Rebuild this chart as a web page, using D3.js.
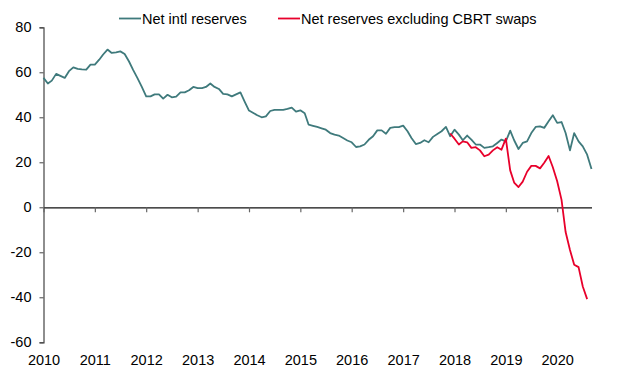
<!DOCTYPE html>
<html lang="en">
<head>
    <meta charset="UTF-8">
    <title>Net reserves</title>
    <script src="https://d3js.org/d3.v7.min.js"></script>
    <style>
        body { margin: 0; background: #fff; }
        svg text { font-family: "Liberation Sans", Arial, sans-serif; font-size: 14.5px; fill: #000; }
    </style>
</head>
<body>
    <div id="chart"></div>

    <script>
    // Monthly series, starting Jan 2010
    const startYear = 2010;
    const netIntlReserves = [
        57.5, 55, 56.3, 59.3, 58.4, 57.5, 60.5, 62.2, 61.5, 61.3, 61.2, 63.4,
        63.4, 65.6, 67.9, 70.1, 68.6, 68.9, 69.3, 68.1, 64.8, 61, 57.3, 53.5,
        49.3, 49.3, 50.2, 50.2, 48.3, 50, 48.9, 49.2, 51.1, 51.1, 52, 53.5,
        53, 53, 53.5, 55, 53.5, 52.6, 50.4, 50.2, 49.3, 50.2, 51.1, 47,
        43, 41.9, 40.9, 40, 40.4, 42.8, 43.3, 43.3, 43.3, 43.7, 44.3, 42.5,
        43.1, 41.8, 36.7, 36.2, 35.7, 35.1, 34.5, 33, 32.3, 31.9, 30.8, 29.7,
        28.9, 26.8, 27.1, 27.9, 30, 31.6, 34.2, 34.2, 32.7, 35.3, 35.6, 35.6,
        36.3, 33.8, 30.8, 28.1, 28.6, 29.8, 28.9, 31.3, 32.6, 33.8, 35.7, 31.6,
        34.5, 32.3, 29.8, 31.9, 30.1, 27.9, 27.9, 26.4, 26.7, 27.1, 28.6, 30.1,
        29.3, 34.1, 29.8, 25.9, 28.6, 29.3, 33, 35.7, 36, 35.3, 38.2, 40.9,
        37.5, 37.9, 33, 25.3, 33, 29.3, 27.1, 23.4, 17
    ];
    // Starts Dec 2017 (month index 95)
    const exSwapsStart = 95;
    const netExSwaps = [
        32.8, 30.5, 27.9, 29.3, 28.9, 26.4, 26.7, 25.3, 22.7, 23.4, 25.3, 26.7,
        25.6, 30.5, 16.4, 11, 9, 11.4, 15.8, 18.4, 18.4, 17.3, 19.8, 22.8,
        17.8, 11.6, 3.3, -11, -19, -25.5, -26.6, -35.2, -40.8
    ];
    const yTicks = [-60, -40, -20, 0, 20, 40, 60, 80];
    const seriesNames = ["Net intl reserves", "Net reserves excluding CBRT swaps"];
    const colors = ["#3f7a7c", "#e8002b"];

    const width = 619, height = 377;

    const svg = d3.select("#chart").append("svg")
        .attr("width", width)
        .attr("height", height);

    const x = d3.scaleTime()
        .domain([new Date(startYear, 0, 1), new Date(startYear, netIntlReserves.length - 1, 1)])
        .range([43.5, 591.5]);

    const y = d3.scaleLinear()
        .domain([-60, 80])
        .range([342.3, 27.3]);

    const date = i => new Date(startYear, i, 1);

    const line = d3.line()
        .x(d => x(d.date))
        .y(d => y(d.value));

    const series = [
        netIntlReserves.map((v, i) => ({ date: date(i), value: v })),
        netExSwaps.map((v, i) => ({ date: date(exSwapsStart + i), value: v }))
    ];

    // y axis (plain hyphen for negatives, like the original)
    const yAxis = svg.append("g")
        .attr("transform", "translate(43.5,0)")
        .call(d3.axisLeft(y).tickValues(yTicks).tickFormat(d => String(d)).tickSize(4).tickPadding(8));
    yAxis.select(".domain").attr("stroke", "#444").attr("stroke-width", 1.2);
    yAxis.selectAll(".tick line").attr("stroke", "#444");
    yAxis.selectAll("text").style("font-size", "14.5px");

    // x axis on the zero line, labels pushed to the bottom
    const xAxis = svg.append("g")
        .attr("transform", `translate(0,${y(0)})`)
        .call(d3.axisBottom(x)
            .ticks(d3.timeYear.every(1))
            .tickFormat(d3.timeFormat("%Y"))
            .tickSize(5)
            .tickSizeOuter(0));
    xAxis.select(".domain").attr("stroke", "#111").attr("stroke-width", 1.2);
    xAxis.selectAll(".tick line").attr("stroke", "#666").attr("stroke-width", 1.2);
    xAxis.selectAll("text")
        .attr("dy", 0)
        .attr("y", 365.5 - y(0))
        .style("font-size", "14.5px");

    // lines
    series.forEach((s, i) => {
        svg.append("path")
            .datum(s)
            .attr("fill", "none")
            .attr("stroke", colors[i])
            .attr("stroke-width", 1.8)
            .attr("stroke-linejoin", "round")
            .attr("d", line);
    });

    // legend
    const legendX = [119, 278];
    seriesNames.forEach((name, i) => {
        const g = svg.append("g").attr("transform", `translate(${legendX[i]},18.5)`);
        g.append("line")
            .attr("x1", 0).attr("x2", 22)
            .attr("stroke", colors[i]).attr("stroke-width", 1.8);
        g.append("text")
            .attr("x", 23).attr("y", 5.5)
            .style("font-size", "14.5px")
            .text(name);
    });
    </script>
</body>
</html>
